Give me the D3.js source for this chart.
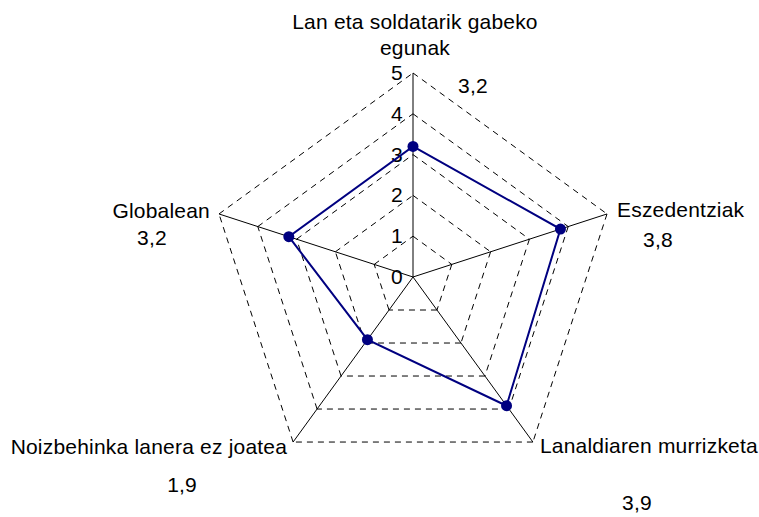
<!DOCTYPE html>
<html>
<head>
<meta charset="utf-8">
<script src="https://cdn.jsdelivr.net/npm/d3@7"></script>
<style>
  html, body { margin: 0; padding: 0; background: #fff; }
  svg { display: block; }
  text { font-family: "Liberation Sans", Arial, sans-serif; font-size: 21px; letter-spacing: 0.2px; fill: #000; }
</style>
</head>
<body>
<svg></svg>
<script>
const categories = [
  ['Lan eta soldatarik gabeko', 'egunak'],
  ['Eszedentziak'],
  ['Lanaldiaren murrizketa'],
  ['Noizbehinka lanera ez joatea'],
  ['Globalean']
];
const values = [3.2, 3.8, 3.9, 1.9, 3.2];
const valueLabels = ['3,2', '3,8', '3,9', '1,9', '3,2'];
const ticks = [0, 1, 2, 3, 4, 5];

// label placement relative to each axis end
const nameOffset = [[2, -44, 'middle'], [10, 3, 'start'], [7, 11, 'start'], [-6, 12, 'end'], [-9, 4, 'end']];
const valueOffset = [[60, 20], [51, 33], [104, 68], [-111, 50], [-67, 31]];

const width = 759, height = 517;
const cx = 413, cy = 277;

const svg = d3.select('svg')
    .attr('width', width)
    .attr('height', height);

const r = d3.scaleLinear().domain([0, 5]).range([0, 204]);
const angle = i => (-90 + 72 * i) * Math.PI / 180;
const pt = (i, v) => [cx + r(v) * Math.cos(angle(i)), cy + r(v) * Math.sin(angle(i))];

const g = svg.append('g');

// dashed grid, one segment per edge so the dashes start at each corner
ticks.filter(t => t > 0).forEach(t => {
  categories.forEach((c, i) => {
    const a = pt(i, t), b = pt((i + 1) % categories.length, t);
    g.append('line')
      .attr('x1', a[0]).attr('y1', a[1])
      .attr('x2', b[0]).attr('y2', b[1])
      .attr('stroke', '#000')
      .attr('stroke-width', 1)
      .attr('stroke-dasharray', '6,5');
  });
});

// axes
categories.forEach((c, i) => {
  const e = pt(i, 5);
  g.append('line')
    .attr('x1', cx).attr('y1', cy)
    .attr('x2', e[0]).attr('y2', e[1])
    .attr('stroke', '#000')
    .attr('stroke-width', 1);
});

// tick labels on the first axis
g.selectAll('.tick').data(ticks)
  .enter().append('text')
  .attr('class', 'tick')
  .attr('x', cx - 10)
  .attr('y', d => cy - r(d) + 7)
  .attr('text-anchor', 'end')
  .text(d => d);

// series
const line = d3.line().curve(d3.curveLinearClosed);
g.append('path')
  .attr('d', line(values.map((v, i) => pt(i, v))))
  .attr('fill', 'none')
  .attr('stroke', '#000080')
  .attr('stroke-width', 2);

g.selectAll('.dot').data(values)
  .enter().append('circle')
  .attr('class', 'dot')
  .attr('cx', (d, i) => pt(i, d)[0])
  .attr('cy', (d, i) => pt(i, d)[1])
  .attr('r', 5.5)
  .attr('fill', '#000080');

// category names
categories.forEach((lines, i) => {
  const e = pt(i, 5);
  const o = nameOffset[i];
  const t = g.append('text')
    .attr('text-anchor', o[2])
    .attr('x', e[0] + o[0])
    .attr('y', e[1] + o[1]);
  lines.forEach((s, k) => {
    t.append('tspan')
      .attr('x', e[0] + o[0])
      .attr('dy', k === 0 ? 0 : 26)
      .text(s);
  });
});

// value labels
valueLabels.forEach((s, i) => {
  const e = pt(i, 5);
  g.append('text')
    .attr('text-anchor', 'middle')
    .attr('x', e[0] + valueOffset[i][0])
    .attr('y', e[1] + valueOffset[i][1])
    .text(s);
});
</script>
</body>
</html>
